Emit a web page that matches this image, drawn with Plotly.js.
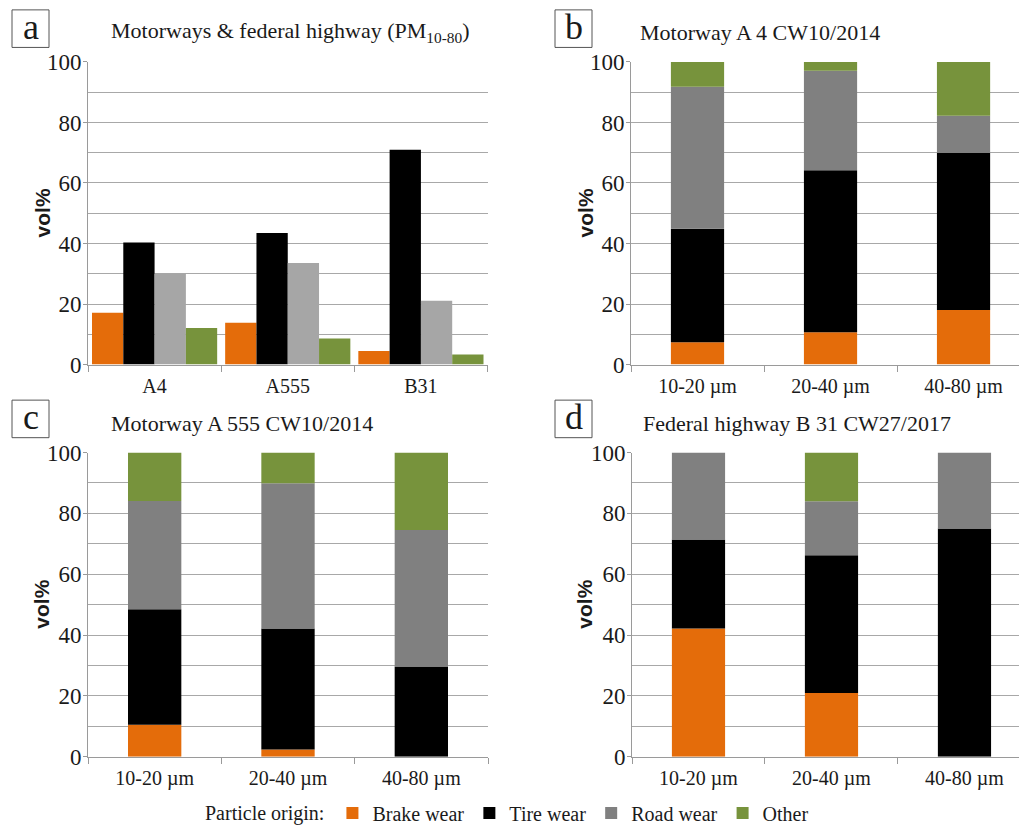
<!DOCTYPE html>
<html>
<head>
<meta charset="utf-8">
<script src="https://cdn.plot.ly/plotly-3.0.1.min.js"></script>
<style>
  html, body { margin: 0; padding: 0; background: #fff; }
  #chart { width: 1019px; height: 833px; }
</style>
</head>
<body>
<div id="chart"></div>
<script>
// Categories
const sites = ['A4', 'A555', 'B31'];
const sizeClasses = ['10-20 µm', '20-40 µm', '40-80 µm'];
const origins = ['Brake wear', 'Tire wear', 'Road wear', 'Other'];

// (a) PM10-80 composition per road, vol%
const pmBrake = [17.1, 13.8, 4.5];
const pmTire  = [40.3, 43.5, 71.0];
const pmRoad  = [30.1, 33.6, 21.1];
const pmOther = [12.1, 8.6, 3.3];

// (b) Motorway A 4, CW10/2014, vol% per size class
const a4Brake = [7.4, 10.7, 18.0];
const a4Tire  = [37.5, 53.5, 51.9];
const a4Road  = [46.9, 32.9, 12.3];
const a4Other = [8.2, 2.9, 17.8];

// (c) Motorway A 555, CW10/2014
const a555Brake = [10.5, 2.4, 0];
const a555Tire  = [38.0, 39.8, 29.7];
const a555Road  = [35.6, 47.7, 44.8];
const a555Other = [15.9, 10.1, 25.5];

// (d) Federal highway B 31, CW27/2017
const b31Brake = [42.2, 21.0, 0];
const b31Tire  = [29.2, 45.2, 75.0];
const b31Road  = [28.6, 17.8, 25.0];
const b31Other = [0, 16.0, 0];

const W = 1019, H = 833;
const px = v => v / W;          // pixel -> paper x
const py = v => 1 - v / H;      // pixel -> paper y

const serif = 'Liberation Serif';
const sans = 'Liberation Sans';
const textColor = '#1a1a1a';
const axisGray = '#9a9a9a';

const colBrake = '#E46C0A';
const colTire = '#000000';
const colRoadLight = '#A6A6A6';
const colRoad = '#808080';
const colOther = '#77933C';

const traces = [];

// (a) grouped bars
[[pmBrake, colBrake], [pmTire, colTire], [pmRoad, colRoadLight], [pmOther, colOther]]
  .forEach(([vals, col], i) => {
    traces.push({
      type: 'bar', x: sites, y: vals, name: origins[i],
      marker: { color: col, line: { width: 0 } },
      xaxis: 'x', yaxis: 'y', showlegend: false
    });
  });

// (b)-(d) stacked bars: each segment starts at the running total below it
function stacked(series, xa, ya, group, legend) {
  const cols = [colBrake, colTire, colRoad, colOther];
  let running = series[0].map(() => 0);
  series.forEach((vals, i) => {
    traces.push({
      type: 'bar', x: sizeClasses, y: vals, base: running.slice(), name: origins[i],
      offsetgroup: group, width: 0.4, offset: -0.2,
      marker: { color: cols[i], line: { width: 0 } },
      xaxis: xa, yaxis: ya, showlegend: legend, legendgroup: origins[i]
    });
    running = running.map((r, k) => r + vals[k]);
  });
}
stacked([a4Brake, a4Tire, a4Road, a4Other], 'x2', 'y2', 'b', true);
stacked([a555Brake, a555Tire, a555Road, a555Other], 'x3', 'y3', 'c', false);
stacked([b31Brake, b31Tire, b31Road, b31Other], 'x4', 'y4', 'd', false);

function xAxis(domain, anchor, range) {
  const ax = {
    domain: domain, anchor: anchor, type: 'category',
    showgrid: false, zeroline: false,
    showline: true, linecolor: axisGray, linewidth: 1,
    ticks: 'outside', tickson: 'boundaries', ticklen: 6, tickcolor: axisGray, tickwidth: 1,
    ticklabelstandoff: 3,
    tickfont: { family: serif, size: 20, color: textColor },
    fixedrange: true
  };
  if (range) ax.range = range;
  return ax;
}
function yAxis(domain, anchor) {
  return {
    domain: domain, anchor: anchor, range: [0, 100], tick0: 0, dtick: 20,
    showgrid: true, gridcolor: '#a8a8a8', gridwidth: 1,
    minor: { dtick: 10, showgrid: true, gridcolor: '#a8a8a8', gridwidth: 1 },
    zeroline: false, showline: true, linecolor: axisGray, linewidth: 1,
    ticks: 'outside', ticklen: 4, tickcolor: axisGray,
    ticklabelstandoff: -3,
    tickfont: { family: serif, size: 23, color: textColor },
    fixedrange: true
  };
}

const topRow = [py(369), py(62.7)];
const botRow = [py(766), py(458)];

const layout = {
  width: W, height: H,
  font: { family: serif, color: textColor },
  margin: { l: 0, r: 0, t: 0, b: 0, pad: 0 },
  paper_bgcolor: '#ffffff', plot_bgcolor: '#ffffff',
  barmode: 'group', bargap: 0.06, bargroupgap: 0,
  xaxis:  xAxis([px(88), px(487.5)], 'y'),
  yaxis:  yAxis(topRow, 'x'),
  xaxis2: xAxis([px(631), 1], 'y2', [-0.5, 2.417]),
  yaxis2: yAxis(topRow, 'x2'),
  xaxis3: xAxis([px(88), px(488)], 'y3'),
  yaxis3: yAxis(botRow, 'x3'),
  xaxis4: xAxis([px(632), 1], 'y4', [-0.5, 2.41]),
  yaxis4: yAxis(botRow, 'x4'),
  showlegend: true,
  legend: {
    orientation: 'h', traceorder: 'normal',
    x: px(203), xanchor: 'left', y: py(823), yanchor: 'middle',
    title: { text: 'Particle origin:', side: 'left', font: { family: serif, size: 20, color: textColor } },
    font: { family: serif, size: 20, color: textColor },
    itemwidth: 30,
    bgcolor: 'rgba(0,0,0,0)', borderwidth: 0
  },
  shapes: [],
  annotations: []
};

// Panel titles
const titles = [
  ['Motorways &amp; federal highway (PM<sub>10-80</sub>)', 290, 32],
  ['Motorway A 4 CW10/2014', 760, 33],
  ['Motorway A 555 CW10/2014', 242, 429],
  ['Federal highway B 31 CW27/2017', 797, 429]
];
titles.forEach(([t, cx, cy]) => {
  layout.annotations.push({
    text: t, xref: 'paper', yref: 'paper', x: px(cx), y: py(cy),
    xanchor: 'center', yanchor: 'middle', showarrow: false,
    font: { family: serif, size: 22, color: textColor }
  });
});

// Panel letters in boxes
const letters = [['a', 12, 10], ['b', 555, 10], ['c', 12, 405], ['d', 555, 405]];
letters.forEach(([l, x0, y0]) => {
  layout.shapes.push({
    type: 'rect', xref: 'paper', yref: 'paper',
    x0: px(x0), x1: px(x0 + 37), y0: py(y0 + 38), y1: py(y0),
    line: { color: '#555555', width: 1 }, fillcolor: 'rgba(0,0,0,0)'
  });
  layout.annotations.push({
    text: l, xref: 'paper', yref: 'paper', x: px(x0 + 18.5), y: py(y0 + 17),
    xanchor: 'center', yanchor: 'middle', showarrow: false,
    font: { family: serif, size: 36, color: textColor }
  });
});

// Y-axis titles
[[42, 216], [585, 216], [42, 612], [585, 612]].forEach(([cx, cy]) => {
  layout.annotations.push({
    text: '<b>vol%</b>', xref: 'paper', yref: 'paper', x: px(cx), y: py(cy),
    xanchor: 'center', yanchor: 'middle', textangle: -90, showarrow: false,
    font: { family: sans, size: 21, color: textColor }
  });
});

Plotly.newPlot('chart', traces, layout, { displayModeBar: false, staticPlot: true });
</script>
</body>
</html>
